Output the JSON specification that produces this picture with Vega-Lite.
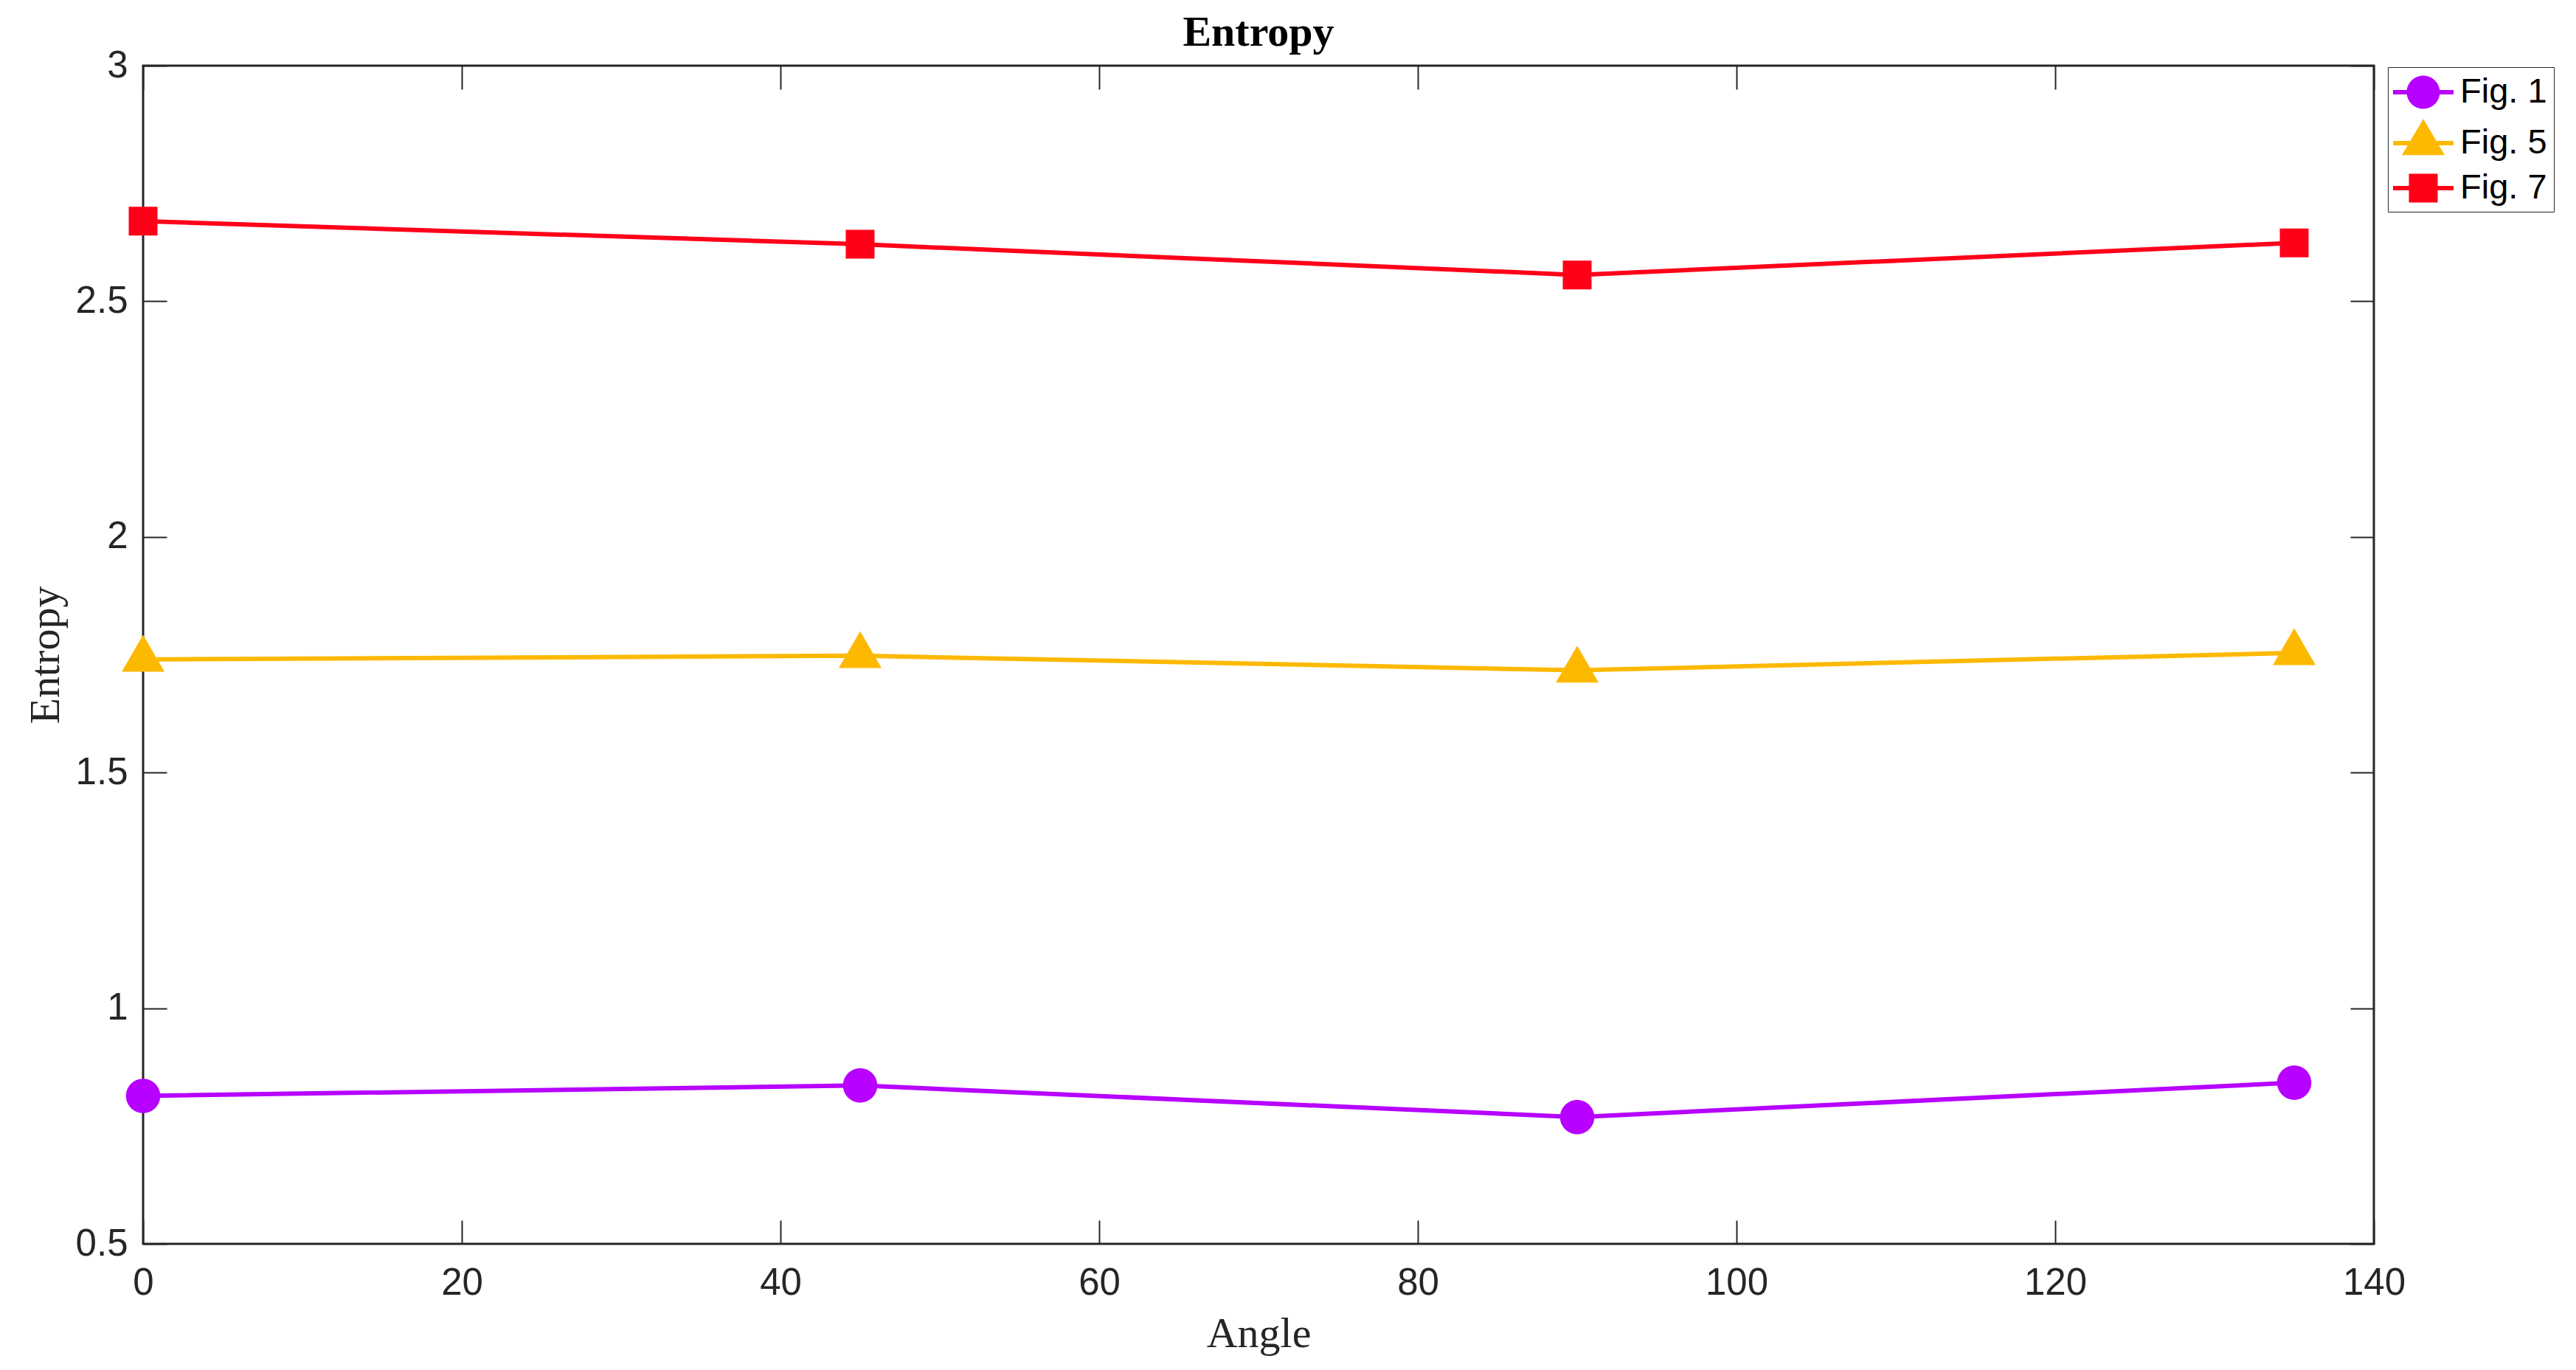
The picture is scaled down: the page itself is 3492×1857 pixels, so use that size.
{
  "$schema": "https://vega.github.io/schema/vega-lite/v6.json",
  "width": 3024,
  "height": 1597,
  "autosize": {"type": "none"},
  "padding": {"left": 194, "top": 89, "right": 274, "bottom": 171},
  "background": "white",
  "title": {
    "text": "Entropy",
    "font": "Liberation Serif",
    "fontSize": 58,
    "fontWeight": "bold",
    "color": "black",
    "baseline": "alphabetic",
    "offset": -57,
    "anchor": "middle"
  },
  "config": {
    "view": {"stroke": "#262626", "strokeWidth": 3},
    "axis": {
      "domain": false,
      "grid": false,
      "tickSize": -32,
      "tickColor": "#262626",
      "tickWidth": 2,
      "labelFont": "Liberation Sans",
      "labelFontSize": 51,
      "labelColor": "#262626",
      "labelFlush": false,
      "labelOverlap": false,
      "titleFont": "Liberation Serif",
      "titleFontSize": 58,
      "titleFontWeight": "normal",
      "titleColor": "#262626"
    },
    "axisX": {"labelPadding": 60, "titlePadding": 15},
    "axisY": {"labelPadding": 53, "titlePadding": 11}
  },
  "data": {
    "values": [
      {"angle": 0, "entropy": 0.814, "series": "Fig. 1"},
      {"angle": 45, "entropy": 0.836, "series": "Fig. 1"},
      {"angle": 90, "entropy": 0.769, "series": "Fig. 1"},
      {"angle": 135, "entropy": 0.842, "series": "Fig. 1"},
      {"angle": 0, "entropy": 1.740, "series": "Fig. 5"},
      {"angle": 45, "entropy": 1.748, "series": "Fig. 5"},
      {"angle": 90, "entropy": 1.717, "series": "Fig. 5"},
      {"angle": 135, "entropy": 1.754, "series": "Fig. 5"},
      {"angle": 0, "entropy": 2.670, "series": "Fig. 7"},
      {"angle": 45, "entropy": 2.621, "series": "Fig. 7"},
      {"angle": 90, "entropy": 2.556, "series": "Fig. 7"},
      {"angle": 135, "entropy": 2.624, "series": "Fig. 7"}
    ]
  },
  "layer": [
    {
      "mark": {"type": "line", "strokeWidth": 6},
      "encoding": {
        "x": {
          "field": "angle",
          "type": "quantitative",
          "scale": {"domain": [0, 140], "nice": false},
          "axis": {"orient": "bottom", "values": [0, 20, 40, 60, 80, 100, 120, 140], "title": "Angle"}
        },
        "y": {
          "field": "entropy",
          "type": "quantitative",
          "scale": {"domain": [0.5, 3], "nice": false, "zero": false},
          "axis": {"orient": "left", "values": [0.5, 1, 1.5, 2, 2.5, 3], "format": "~g", "title": "Entropy"}
        },
        "detail": {"field": "series", "type": "nominal"},
        "color": {
          "condition": [
            {"test": "datum.series === 'Fig. 1'", "value": "#B700FF"},
            {"test": "datum.series === 'Fig. 5'", "value": "#FDB900"}
          ],
          "value": "#FF0019"
        }
      }
    },
    {
      "mark": {"type": "point", "filled": true, "opacity": 1, "size": 2500, "strokeWidth": 0},
      "encoding": {
        "x": {"field": "angle", "type": "quantitative", "axis": null},
        "y": {"field": "entropy", "type": "quantitative", "axis": null},
        "color": {
          "condition": [
            {"test": "datum.series === 'Fig. 1'", "value": "#B700FF"},
            {"test": "datum.series === 'Fig. 5'", "value": "#FDB900"}
          ],
          "value": "#FF0019"
        },
        "shape": {
          "condition": [
            {"test": "datum.series === 'Fig. 1'", "value": "M-0.93,0A0.93,0.93,0,1,1,0.93,0A0.93,0.93,0,1,1,-0.93,0Z"},
            {"test": "datum.series === 'Fig. 5'", "value": "M0,-1.333L1.16,0.667L-1.16,0.667Z"}
          ],
          "value": "M-0.78,-0.78H0.78V0.78H-0.78Z"
        }
      }
    },
    {
      "mark": {"type": "point", "filled": true, "opacity": 0, "size": 2500},
      "encoding": {
        "x": {
          "field": "angle",
          "type": "quantitative",
          "axis": {"orient": "top", "values": [0, 20, 40, 60, 80, 100, 120, 140], "labels": false, "title": null}
        },
        "y": {
          "field": "entropy",
          "type": "quantitative",
          "axis": {"orient": "right", "values": [0.5, 1, 1.5, 2, 2.5, 3], "labels": false, "title": null}
        },
        "color": {
          "field": "series",
          "type": "nominal",
          "scale": {"domain": ["Fig. 1", "Fig. 5", "Fig. 7"], "range": ["#B700FF", "#FDB900", "#FF0019"]},
          "legend": {
            "title": null,
            "orient": "none",
            "legendX": 3043,
            "legendY": 2,
            "padding": 9,
            "rowPadding": 13,
            "strokeColor": "#262626",
            "fillColor": "white",
            "labelFont": "Liberation Sans",
            "labelFontSize": 47,
            "labelColor": "black",
            "labelOffset": 25,
            "symbolOffset": 14,
            "symbolSize": 2500,
            "symbolStrokeWidth": 0,
            "symbolOpacity": 1
          }
        },
        "shape": {
          "field": "series",
          "type": "nominal",
          "scale": {
            "domain": ["Fig. 1", "Fig. 5", "Fig. 7"],
            "range": [
              "M-0.9,0A0.9,0.9,0,1,1,0.9,0A0.9,0.9,0,1,1,-0.9,0ZM-1.64,-0.12H1.64V0.12H-1.64Z",
              "M0,-1.31L1.16,0.65L-1.16,0.65ZM-1.64,-0.12H1.64V0.12H-1.64Z",
              "M-0.78,-0.78H0.78V0.78H-0.78ZM-1.64,-0.12H1.64V0.12H-1.64Z"
            ]
          },
          "legend": {
            "title": null,
            "orient": "none",
            "legendX": 3043,
            "legendY": 2,
            "padding": 9,
            "rowPadding": 13,
            "strokeColor": "#262626",
            "fillColor": "white",
            "labelFont": "Liberation Sans",
            "labelFontSize": 47,
            "labelColor": "black",
            "labelOffset": 25,
            "symbolOffset": 14,
            "symbolSize": 2500,
            "symbolStrokeWidth": 0,
            "symbolOpacity": 1
          }
        }
      }
    }
  ],
  "resolve": {"axis": {"x": "independent", "y": "independent"}}
}
